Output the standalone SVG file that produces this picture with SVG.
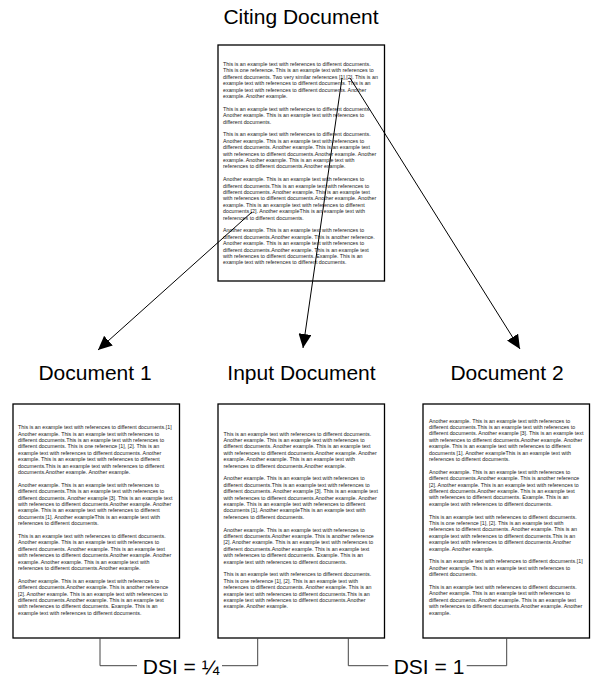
<svg xmlns="http://www.w3.org/2000/svg" width="592" height="679" viewBox="0 0 592 679">
<style>
.t{font-family:"Liberation Sans",Arial,sans-serif;font-size:5.33px;fill:#222}
.title{font-family:"Liberation Sans",Arial,sans-serif;font-size:21px;fill:#000;text-anchor:middle}
.box{fill:#fff;stroke:#000;stroke-width:1.3}
.arrow{stroke:#000;stroke-width:1;fill:none;marker-end:url(#ah)}
.br{stroke:#444;stroke-width:1;fill:none}
</style>
<defs>
<marker id="ah" markerWidth="14" markerHeight="13" refX="14" refY="6.5" orient="auto" markerUnits="userSpaceOnUse">
<path d="M0,0 L14,6.5 L0,13 z" fill="#000"/>
</marker>
</defs>
<rect width="592" height="679" fill="#fff"/>

<g id="citing">
<text class="title" x="301" y="24">Citing Document</text>
<rect class="box" x="218" y="45" width="166.5" height="236"/>
<text class="t" x="223" y="66">
<tspan x="223" dy="0">This is an example text with references to different documents.</tspan>
<tspan x="223" dy="6.4">This is one reference. This is an example text with references to</tspan>
<tspan x="223" dy="6.4">different documents. Two very similar references [1],[2]. This is an</tspan>
<tspan x="223" dy="6.4">example text with references to different documents. This is an</tspan>
<tspan x="223" dy="6.4">example text with references to different documents. Another</tspan>
<tspan x="223" dy="6.4">example. Another example.</tspan>
<tspan x="223" dy="12.8">This is an example text with references to different documents.</tspan>
<tspan x="223" dy="6.4">Another example. This is an example text with references to</tspan>
<tspan x="223" dy="6.4">different documents.</tspan>
<tspan x="223" dy="12.8">This is an example text with references to different documents.</tspan>
<tspan x="223" dy="6.4">Another example. This is an example text with references to</tspan>
<tspan x="223" dy="6.4">different documents. Another example. This is an example text</tspan>
<tspan x="223" dy="6.4">with references to different documents.Another example. Another</tspan>
<tspan x="223" dy="6.4">example. Another example. This is an example text with</tspan>
<tspan x="223" dy="6.4">references to different documents.Another example.</tspan>
<tspan x="223" dy="12.8">Another example. This is an example text with references to</tspan>
<tspan x="223" dy="6.4">different documents.This is an example text with references to</tspan>
<tspan x="223" dy="6.4">different documents. Another example. This is an example text</tspan>
<tspan x="223" dy="6.4">with references to different documents.Another example. Another</tspan>
<tspan x="223" dy="6.4">example. This is an example text with references to different</tspan>
<tspan x="223" dy="6.4">documents [2]. Another exampleThis is an example text with</tspan>
<tspan x="223" dy="6.4">references to different documents.</tspan>
<tspan x="223" dy="12.8">Another example. This is an example text with references to</tspan>
<tspan x="223" dy="6.4">different documents.Another example. This is another reference.</tspan>
<tspan x="223" dy="6.4">Another example. This is an example text with references to</tspan>
<tspan x="223" dy="6.4">different documents.Another example. This is an example text</tspan>
<tspan x="223" dy="6.4">with references to different documents. Example. This is an</tspan>
<tspan x="223" dy="6.4">example text with references to different documents.</tspan>
</text>
</g>

<g id="doc1">
<text class="title" x="95" y="380">Document 1</text>
<rect class="box" x="13" y="404" width="166.5" height="234"/>
<text class="t" x="18" y="429.2">
<tspan x="18" dy="0">This is an example text with references to different documents.[1]</tspan>
<tspan x="18" dy="6.4">Another example. This is an example text with references to</tspan>
<tspan x="18" dy="6.4">different documents.This is an example text with references to</tspan>
<tspan x="18" dy="6.4">different documents. This is one reference [1], [2]. This is an</tspan>
<tspan x="18" dy="6.4">example text with references to different documents. Another</tspan>
<tspan x="18" dy="6.4">example. This is an example text with references to different</tspan>
<tspan x="18" dy="6.4">documents.This is an example text with references to different</tspan>
<tspan x="18" dy="6.4">documents.Another example. Another example.</tspan>
<tspan x="18" dy="12.8">Another example. This is an example text with references to</tspan>
<tspan x="18" dy="6.4">different documents.This is an example text with references to</tspan>
<tspan x="18" dy="6.4">different documents. Another example [3]. This is an example text</tspan>
<tspan x="18" dy="6.4">with references to different documents.Another example. Another</tspan>
<tspan x="18" dy="6.4">example. This is an example text with references to different</tspan>
<tspan x="18" dy="6.4">documents [1]. Another exampleThis is an example text with</tspan>
<tspan x="18" dy="6.4">references to different documents.</tspan>
<tspan x="18" dy="12.8">This is an example text with references to different documents.</tspan>
<tspan x="18" dy="6.4">Another example. This is an example text with references to</tspan>
<tspan x="18" dy="6.4">different documents. Another example. This is an example text</tspan>
<tspan x="18" dy="6.4">with references to different documents.Another example. Another</tspan>
<tspan x="18" dy="6.4">example. Another example. This is an example text with</tspan>
<tspan x="18" dy="6.4">references to different documents.Another example.</tspan>
<tspan x="18" dy="12.8">Another example. This is an example text with references to</tspan>
<tspan x="18" dy="6.4">different documents.Another example. This is another reference</tspan>
<tspan x="18" dy="6.4">[2]. Another example. This is an example text with references to</tspan>
<tspan x="18" dy="6.4">different documents.Another example. This is an example text</tspan>
<tspan x="18" dy="6.4">with references to different documents. Example. This is an</tspan>
<tspan x="18" dy="6.4">example text with references to different documents.</tspan>
</text>
</g>

<g id="input">
<text class="title" x="301.5" y="380">Input Document</text>
<rect class="box" x="218" y="404" width="166.5" height="234"/>
<text class="t" x="223.5" y="435.5">
<tspan x="223.5" dy="0">This is an example text with references to different documents.</tspan>
<tspan x="223.5" dy="6.4">Another example. This is an example text with references to</tspan>
<tspan x="223.5" dy="6.4">different documents. Another example. This is an example text</tspan>
<tspan x="223.5" dy="6.4">with references to different documents.Another example. Another</tspan>
<tspan x="223.5" dy="6.4">example. Another example. This is an example text with</tspan>
<tspan x="223.5" dy="6.4">references to different documents.Another example.</tspan>
<tspan x="223.5" dy="12.8">Another example. This is an example text with references to</tspan>
<tspan x="223.5" dy="6.4">different documents.This is an example text with references to</tspan>
<tspan x="223.5" dy="6.4">different documents. Another example [3]. This is an example text</tspan>
<tspan x="223.5" dy="6.4">with references to different documents.Another example. Another</tspan>
<tspan x="223.5" dy="6.4">example. This is an example text with references to different</tspan>
<tspan x="223.5" dy="6.4">documents [1]. Another exampleThis is an example text with</tspan>
<tspan x="223.5" dy="6.4">references to different documents.</tspan>
<tspan x="223.5" dy="12.8">Another example. This is an example text with references to</tspan>
<tspan x="223.5" dy="6.4">different documents.Another example. This is another reference</tspan>
<tspan x="223.5" dy="6.4">[2]. Another example. This is an example text with references to</tspan>
<tspan x="223.5" dy="6.4">different documents.Another example. This is an example text</tspan>
<tspan x="223.5" dy="6.4">with references to different documents. Example. This is an</tspan>
<tspan x="223.5" dy="6.4">example text with references to different documents.</tspan>
<tspan x="223.5" dy="12.8">This is an example text with references to different documents.</tspan>
<tspan x="223.5" dy="6.4">This is one reference [1], [2]. This is an example text with</tspan>
<tspan x="223.5" dy="6.4">references to different documents. Another example. This is an</tspan>
<tspan x="223.5" dy="6.4">example text with references to different documents.This is an</tspan>
<tspan x="223.5" dy="6.4">example text with references to different documents.Another</tspan>
<tspan x="223.5" dy="6.4">example. Another example.</tspan>
</text>
</g>

<g id="doc2">
<text class="title" x="507" y="380">Document 2</text>
<rect class="box" x="423" y="404" width="166.5" height="234"/>
<text class="t" x="429" y="422.5">
<tspan x="429" dy="0">Another example. This is an example text with references to</tspan>
<tspan x="429" dy="6.4">different documents.This is an example text with references to</tspan>
<tspan x="429" dy="6.4">different documents. Another example [3]. This is an example text</tspan>
<tspan x="429" dy="6.4">with references to different documents.Another example. Another</tspan>
<tspan x="429" dy="6.4">example. This is an example text with references to different</tspan>
<tspan x="429" dy="6.4">documents [1]. Another exampleThis is an example text with</tspan>
<tspan x="429" dy="6.4">references to different documents.</tspan>
<tspan x="429" dy="12.8">Another example. This is an example text with references to</tspan>
<tspan x="429" dy="6.4">different documents.Another example. This is another reference</tspan>
<tspan x="429" dy="6.4">[2]. Another example. This is an example text with references to</tspan>
<tspan x="429" dy="6.4">different documents.Another example. This is an example text</tspan>
<tspan x="429" dy="6.4">with references to different documents. Example. This is an</tspan>
<tspan x="429" dy="6.4">example text with references to different documents.</tspan>
<tspan x="429" dy="12.8">This is an example text with references to different documents.</tspan>
<tspan x="429" dy="6.4">This is one reference [1], [2]. This is an example text with</tspan>
<tspan x="429" dy="6.4">references to different documents. Another example. This is an</tspan>
<tspan x="429" dy="6.4">example text with references to different documents.This is an</tspan>
<tspan x="429" dy="6.4">example text with references to different documents.Another</tspan>
<tspan x="429" dy="6.4">example. Another example.</tspan>
<tspan x="429" dy="12.8">This is an example text with references to different documents.[1]</tspan>
<tspan x="429" dy="6.4">Another example. This is an example text with references to</tspan>
<tspan x="429" dy="6.4">different documents.</tspan>
<tspan x="429" dy="12.8">This is an example text with references to different documents.</tspan>
<tspan x="429" dy="6.4">Another example. This is an example text with references to</tspan>
<tspan x="429" dy="6.4">different documents. Another example. This is an example text</tspan>
<tspan x="429" dy="6.4">with references to different documents.Another example. Another</tspan>
<tspan x="429" dy="6.4">example.</tspan>
</text>
</g>

<g id="connectors">
<line class="arrow" x1="252" y1="212" x2="98" y2="350"/>
<line class="arrow" x1="342" y1="78" x2="303" y2="348"/>
<line class="arrow" x1="350" y1="78" x2="520" y2="349"/>
</g>

<g id="dsi">
<path class="br" d="M100,638 V665.7 H137 M222,665.7 H257.7 V638"/>
<text class="title" x="181" y="673.5">DSI = ¼</text>
<path class="br" d="M348.3,638 V665.7 H388.3 M466.7,665.7 H506.7 V638"/>
<text class="title" x="429" y="673.5">DSI = 1</text>
</g>
</svg>
